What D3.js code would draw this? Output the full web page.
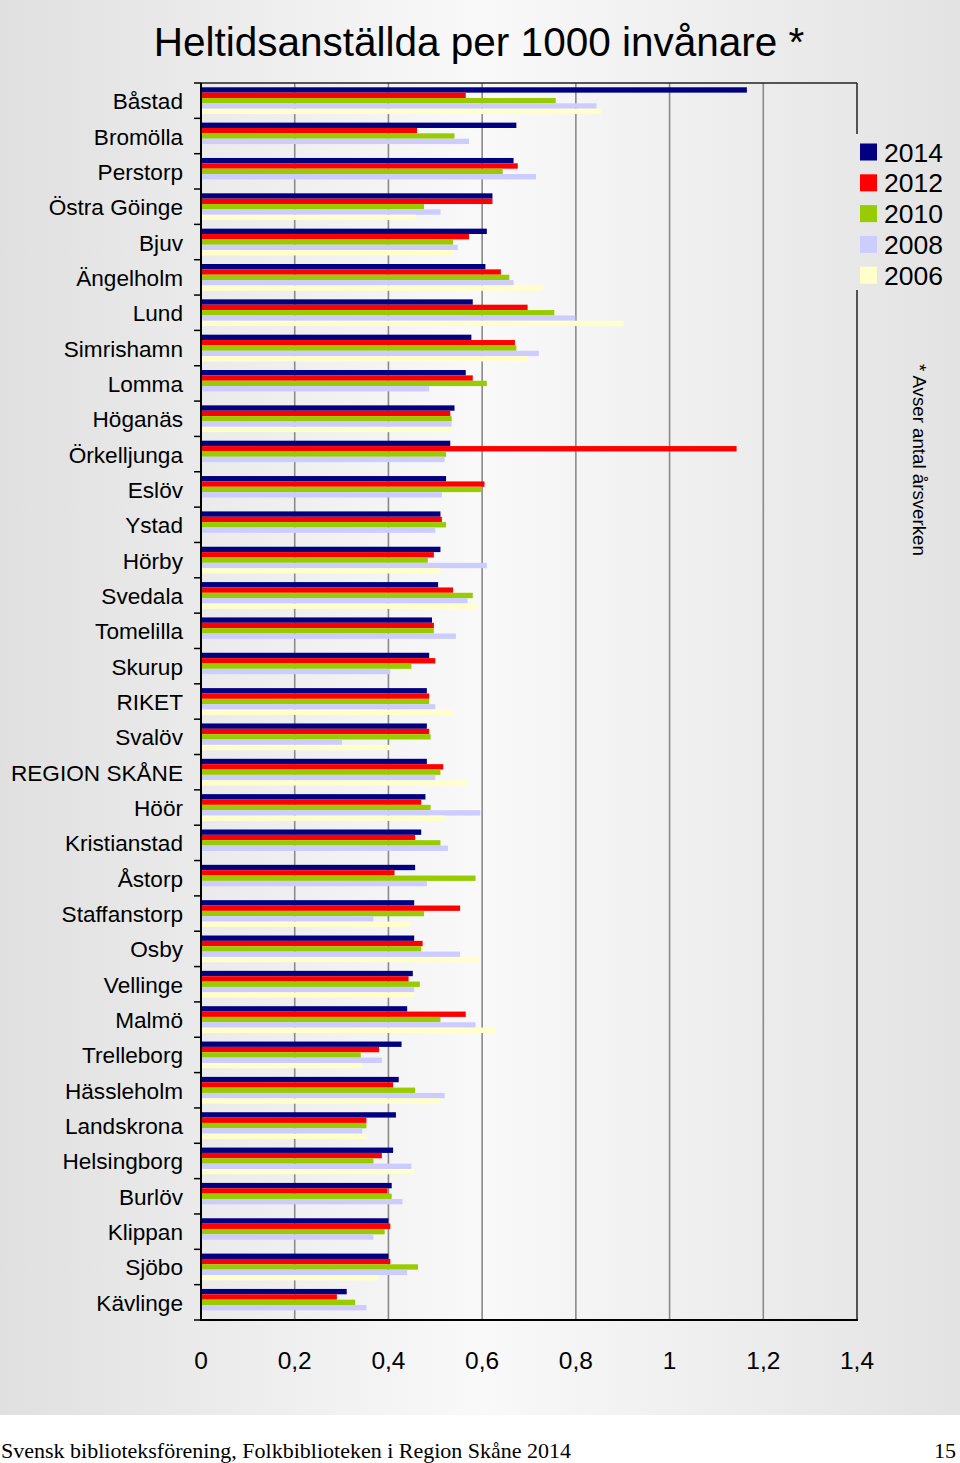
<!DOCTYPE html>
<html><head><meta charset="utf-8">
<script src="https://cdn.jsdelivr.net/npm/d3@7"></script>
<style>html,body{margin:0;padding:0;background:#fff}svg{display:block}</style>
</head><body>
<script>
const categories = ["Båstad","Bromölla","Perstorp","Östra Göinge","Bjuv","Ängelholm","Lund","Simrishamn","Lomma","Höganäs","Örkelljunga","Eslöv","Ystad","Hörby","Svedala","Tomelilla","Skurup","RIKET","Svalöv","REGION SKÅNE","Höör","Kristianstad","Åstorp","Staffanstorp","Osby","Vellinge","Malmö","Trelleborg","Hässleholm","Landskrona","Helsingborg","Burlöv","Klippan","Sjöbo","Kävlinge"];
const series = ["2014","2012","2010","2008","2006"];
const colors = ["#000080","#ff0000","#99cc00","#ccccff","#ffffcc"];
const v2014 = [1.165,0.673,0.667,0.622,0.610,0.607,0.580,0.577,0.565,0.541,0.532,0.523,0.511,0.511,0.506,0.493,0.487,0.482,0.482,0.482,0.479,0.470,0.457,0.455,0.455,0.452,0.440,0.428,0.422,0.416,0.410,0.407,0.400,0.400,0.311];
const v2012 = [0.565,0.461,0.676,0.622,0.572,0.640,0.697,0.670,0.580,0.532,1.143,0.605,0.514,0.497,0.538,0.497,0.500,0.487,0.487,0.517,0.470,0.457,0.413,0.553,0.473,0.443,0.565,0.380,0.410,0.353,0.386,0.398,0.404,0.404,0.290];
const v2010 = [0.757,0.541,0.644,0.476,0.538,0.658,0.754,0.673,0.610,0.535,0.523,0.599,0.523,0.484,0.580,0.497,0.449,0.487,0.490,0.511,0.490,0.511,0.586,0.476,0.470,0.467,0.511,0.341,0.457,0.353,0.368,0.407,0.392,0.463,0.329];
const v2008 = [0.844,0.572,0.715,0.511,0.548,0.667,0.799,0.721,0.487,0.535,0.520,0.514,0.500,0.610,0.569,0.544,0.404,0.500,0.301,0.500,0.596,0.527,0.482,0.368,0.553,0.455,0.586,0.386,0.520,0.344,0.449,0.430,0.368,0.440,0.353];
const v2006 = [0.853,null,null,0.459,0.540,0.729,0.902,0.697,null,0.535,null,null,null,0.511,0.590,null,null,0.537,0.404,0.570,0.520,null,null,0.446,0.596,0.455,0.629,0.344,0.511,0.353,0.455,null,null,0.380,null];
const xTicks = [0,0.2,0.4,0.6,0.8,1,1.2,1.4];
const title = "Heltidsanställda per 1000 invånare *";
const note = "* Avser antal årsverken";
const footer = "Svensk biblioteksförening, Folkbiblioteken i Region Skåne 2014";
const pageNo = "15";

(function(){
const W = 960, H = 1463;
const values = [v2014, v2012, v2010, v2008, v2006];
const svg = d3.select("body").append("svg").attr("width", W).attr("height", H);
const defs = svg.append("defs");
const g = defs.append("linearGradient").attr("id","bg").attr("gradientUnits","userSpaceOnUse")
  .attr("x1",0).attr("y1",0).attr("x2",W).attr("y2",0);
g.append("stop").attr("offset","0%").attr("stop-color","#e0e0e0");
g.append("stop").attr("offset","50%").attr("stop-color","#f9f9f9");
g.append("stop").attr("offset","100%").attr("stop-color","#e3e3e3");

svg.append("rect").attr("x",0).attr("y",0).attr("width",W).attr("height",1415).attr("fill","url(#bg)");
svg.append("rect").attr("x",0).attr("y",1415).attr("width",W).attr("height",H-1415).attr("fill","#ffffff");

const pL = 201, pR = 857, pT = 83, pB = 1320;
const x = d3.scaleLinear().domain([0,1.4]).range([pL,pR]);
const y = d3.scaleBand().domain(categories).range([pT,pB]);
const ys = d3.scaleBand().domain(series).range([0,y.bandwidth()]).paddingOuter(0.8);

svg.append("g").selectAll("line").data(xTicks.filter(t=>t>0 && t<1.4)).join("line")
  .attr("x1",d=>x(d)).attr("x2",d=>x(d)).attr("y1",pT).attr("y2",pB)
  .attr("stroke","#8a8a8a").attr("stroke-width",1.6);

const rows = categories.map((c,i)=>({c, vals: series.map((s,j)=>({s, j, v: values[j][i]}))}));
const grp = svg.append("g").selectAll("g").data(rows).join("g")
  .attr("transform",d=>`translate(0,${y(d.c)})`);
grp.selectAll("rect").data(d=>d.vals.filter(o=>o.v!=null)).join("rect")
  .attr("x",x(0)).attr("y",d=>ys(d.s)).attr("height",ys.bandwidth())
  .attr("width",d=>x(d.v)-x(0)).attr("fill",d=>colors[d.j]);

svg.append("line").attr("x1",pL).attr("x2",pR).attr("y1",pT).attr("y2",pT).attr("stroke","#222").attr("stroke-width",1.5);
svg.append("line").attr("x1",pR).attr("x2",pR).attr("y1",pT).attr("y2",pB).attr("stroke","#222").attr("stroke-width",1.5);

const yAxis = svg.append("g");
yAxis.append("line").attr("x1",pL).attr("x2",pL).attr("y1",pT).attr("y2",pB).attr("stroke","#000").attr("stroke-width",2);
yAxis.selectAll("line.t").data(d3.range(categories.length+1)).join("line").attr("class","t")
  .attr("x1",pL-7).attr("x2",pL).attr("y1",i=>pT+i*y.step()).attr("y2",i=>pT+i*y.step())
  .attr("stroke","#000").attr("stroke-width",1.5);
yAxis.selectAll("text").data(categories).join("text")
  .attr("x",183).attr("y",d=>y(d)+y.bandwidth()/2+8.5)
  .attr("text-anchor","end").attr("font-family","Liberation Sans, Arial, sans-serif")
  .attr("font-size",22.6).attr("fill","#000").text(d=>d);

svg.append("line").attr("x1",pL-1).attr("x2",pR+1).attr("y1",pB).attr("y2",pB).attr("stroke","#000").attr("stroke-width",2);
svg.append("g").selectAll("text").data(xTicks).join("text")
  .attr("x",d=>x(d)).attr("y",1369).attr("text-anchor","middle")
  .attr("font-family","Liberation Sans, Arial, sans-serif").attr("font-size",24.5).attr("fill","#000")
  .text(d=>String(d).replace(".",","));

svg.append("text").attr("x",479).attr("y",56).attr("text-anchor","middle")
  .attr("font-family","Liberation Sans, Arial, sans-serif").attr("font-size",40.5).attr("fill","#000").text(title);

const lg = svg.append("g");
lg.append("rect").attr("x",852).attr("y",134).attr("width",100).attr("height",156).attr("fill","url(#bg)");
const li = lg.selectAll("g").data(series).join("g").attr("transform",(d,i)=>`translate(860,${152+i*30.8})`);
li.append("rect").attr("x",0).attr("y",-8.5).attr("width",17).attr("height",17).attr("fill",(d,i)=>colors[i]);
li.append("text").attr("x",24).attr("y",9.5).attr("font-family","Liberation Sans, Arial, sans-serif")
  .attr("font-size",26.5).attr("fill","#000").text(d=>d);

svg.append("text").attr("transform","translate(913,364) rotate(90)")
  .attr("font-family","Liberation Sans, Arial, sans-serif").attr("font-size",18.7).attr("fill","#000").text(note);

svg.append("text").attr("x",1).attr("y",1458).attr("font-family","Liberation Serif, Times New Roman, serif")
  .attr("font-size",22).attr("fill","#000").text(footer);
svg.append("text").attr("x",956).attr("y",1458).attr("text-anchor","end").attr("font-family","Liberation Serif, Times New Roman, serif")
  .attr("font-size",22).attr("fill","#000").text(pageNo);
})();
</script>
</body></html>
